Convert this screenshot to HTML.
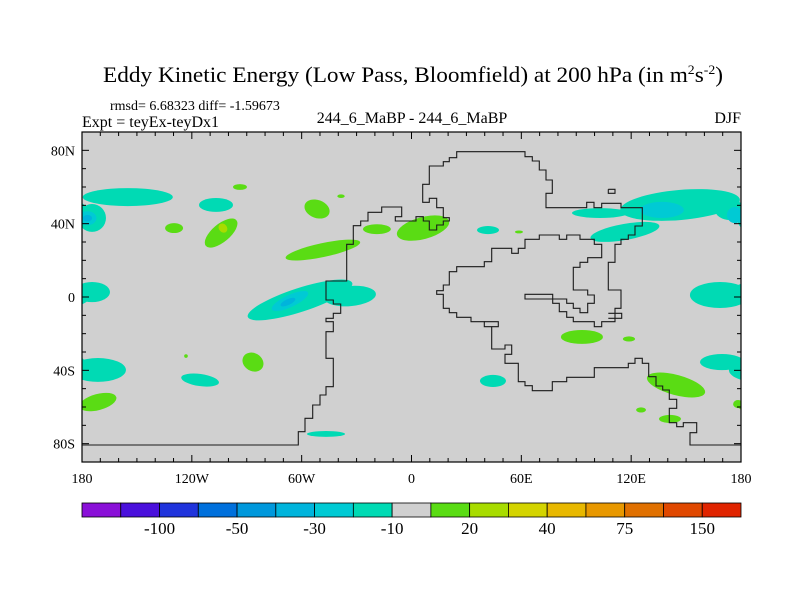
<!DOCTYPE html>
<html><head><meta charset="utf-8">
<style>
html,body{margin:0;padding:0;background:#fff;}
svg{display:block;font-family:"Liberation Serif",serif;}
</style></head>
<body>
<svg id="chart" width="800" height="600" viewBox="0 0 800 600" xmlns="http://www.w3.org/2000/svg">
<text x="103" y="82" font-size="22" textLength="620" lengthAdjust="spacingAndGlyphs">Eddy Kinetic Energy (Low Pass, Bloomfield) at 200 hPa (in m<tspan dy="-8" font-size="13">2</tspan><tspan dy="8">s</tspan><tspan dy="-8" font-size="13">-2</tspan><tspan dy="8">)</tspan></text>
<text x="110" y="110" font-size="14">rmsd= 6.68323 diff= -1.59673</text>
<text x="82" y="127" font-size="16">Expt = teyEx-teyDx1</text>
<text x="412" y="123" font-size="16" text-anchor="middle">244_6_MaBP - 244_6_MaBP</text>
<text x="741" y="123" font-size="16" text-anchor="end">DJF</text>
<defs><clipPath id="clip"><rect x="82" y="132" width="659" height="330"/></clipPath></defs>
<rect x="82" y="132" width="659" height="330" fill="#d0d0d0"/>
<g id="contours" clip-path="url(#clip)"></g>
<g id="coast" clip-path="url(#clip)"></g>
<g id="axes"></g>
<g id="colorbar"></g>
</svg>
<script>
// Contour blobs: centre lon/lat, radii (deg), rotation (deg), colour level index (1-17)
const blobLon = [-155,-174.5,-177,-177,-106.8,-93.7,-104,-103,-129.7,-51.6,-48.4,-38.5,-18.9,6.3,41.8,58.7,-60.9,-33.6,-66.4,-67.5,93.1,118.8,44.5,-46.7,125.4,146.7,103,116.6,136.8,174,176.7,168.5,-174.5,169.6,-171.3,-171.3,-115.5,-86.6,-123.2,144.5,141.2,178.4];
const blobLat = [54.5,43.1,43,43,50.2,60,34.9,37.6,37.6,48,25.6,55,37,37.6,36.5,35.5,-1.6,0.5,-2.2,-2.8,-21.8,-22.9,-45.8,-74.7,-61.6,50.2,45.8,35.5,47.5,47.5,44.7,1.1,2.7,-35.5,-39.8,-57.3,-45.3,-35.5,-32.2,-48,-66.5,-58.4];
const blobRx  = [24.6,7.6,4.9,2.5,9.3,3.8,10.9,2.2,4.9,7.1,20.8,2,7.6,14.7,6,2.2,30,14.2,10.9,4.4,11.5,3.3,7.1,10.4,2.7,32.8,15.3,19.1,12,8.2,4.4,16.4,9.8,12,15.3,10.4,10.4,6,1,16.4,6,2.7];
const blobRy  = [4.9,7.6,3.8,1.8,3.8,1.6,4.9,2.7,2.7,4.9,3.8,1,2.7,6,2.2,0.8,6.5,5.5,3.3,1.6,3.8,1.4,3.3,1.6,1.4,8.2,2.7,4.4,4.4,5.5,4.4,7.1,5.5,4.4,6.5,4.4,3.3,4.9,1,5.5,2.2,2.2];
const blobRot = [0,0,0,0,0,0,-40,-40,0,20,-12,0,0,-15,0,0,-18,-5,-25,-25,0,0,0,0,0,-5,0,-10,0,0,0,0,0,0,0,-15,8,30,0,15,0,0];
const blobLev = [8,8,7,6,8,10,10,11,10,10,10,10,10,10,8,10,8,8,7,6,10,10,8,8,10,8,8,8,7,8,7,8,8,8,8,10,8,10,10,10,10,10];
// Colorbar levels
const levelColors = ["#8a10d8","#4a10dc","#2034dc","#0070dc","#0098dc","#00b4dc","#00cad4","#00dab4","#d0d0d0","#5adc14","#a8dc00","#d4d400","#e8b800","#e89800","#e07000","#e04800","#e02400"];
const cbarLabels = ["-100","-50","-30","-10","20","40","75","150"];
const cbarLabelPos = [2,4,6,8,10,12,14,16];
const xTickLabels = ["180","120W","60W","0","60E","120E","180"];
const xTickLons = [-180,-120,-60,0,60,120,180];
const yTickLabels = ["80N","40N","0","40S","80S"];
const yTickLats = [80,40,0,-40,-80];

const X0=82,Y0=132,W=659,H=330;
const xS = lon => X0 + (lon+180)/360*W;
const yS = lat => Y0 + (90-lat)/180*H;
const NS="http://www.w3.org/2000/svg";
function mk(tag, attrs, parent){const e=document.createElementNS(NS,tag);for(const k in attrs)e.setAttribute(k,attrs[k]);parent.appendChild(e);return e;}

const cg=document.getElementById('contours');
const order=blobLon.map((_,i)=>i).sort((a,b)=>Math.abs(blobLev[a]-8.5)-Math.abs(blobLev[b]-8.5));
order.forEach(i=>{
  [-360,0,360].forEach(off=>{
    const cx=xS(blobLon[i]+off), cy=yS(blobLat[i]);
    const e=mk('ellipse',{cx:cx,cy:cy,rx:blobRx[i]*W/360,ry:blobRy[i]*H/180,fill:levelColors[blobLev[i]-1],transform:`rotate(${blobRot[i]} ${cx} ${cy})`},cg);
    
    
  });
});

// Coastline outlines (traced; zoom-space coords)
const coastA=[[-640,900],[25,900],[25,860],[45,860],[45,820],[68,820],[68,780],[90,780],[90,750],[108,750],[108,725],[130,725],[130,640],[108,640],[108,560],[130,560],[130,530],[108,530],[108,520],[130,520],[130,505],[152,505],[152,477],[130,477],[130,465],[108,465],[108,408],[170,408],[170,298],[190,298],[190,242],[212,242],[212,228],[234,228],[234,202],[275,202],[275,186],[335,186],[335,215],[316,215],[316,228],[378,228],[378,215],[400,215],[400,228],[418,228],[418,255],[440,255],[440,240],[460,240],[460,228],[478,228],[478,218],[460,218],[460,188],[440,188],[440,160],[418,160],[418,172],[398,172],[398,118],[418,118],[418,63],[460,63],[460,50],[478,50],[478,38],[500,38],[500,20],[705,20],[705,35],[727,35],[727,48],[748,48],[748,75],[768,75],[768,105],[787,105],[787,145],[768,145],[768,188],[890,188],[890,172],[912,172],[912,188],[935,188],[935,175],[993,175],[993,188],[1057,188],[1057,243],[1035,243],[1035,270],[1015,270],[1015,283],[993,283],[993,298],[975,298],[975,352],[955,352],[955,435],[993,435],[993,490],[975,490],[975,530],[935,530],[935,545],[913,545],[913,530],[850,530],[850,517],[830,517],[830,500],[808,500],[808,475],[788,475],[788,462],[705,462],[705,448],[788,448],[788,462],[830,462],[830,475],[850,475],[850,490],[870,490],[870,503],[893,503],[893,475],[913,475],[913,450],[893,450],[893,435],[850,435],[850,367],[870,367],[870,352],[893,352],[893,338],[935,338],[935,298],[913,298],[913,283],[870,283],[870,270],[830,270],[830,283],[808,283],[808,270],[748,270],[748,283],[705,283],[705,310],[685,310],[685,325],[665,325],[665,310],[605,310],[605,350],[583,350],[583,365],[500,365],[500,380],[478,380],[478,420],[460,420],[460,437],[440,437],[440,448],[460,448],[460,490],[478,490],[478,503],[500,503],[500,517],[543,517],[543,530],[583,530],[583,545],[605,545],[605,612],[645,612],[645,600],[665,600],[665,628],[645,628],[645,655],[685,655],[685,710],[705,710],[705,722],[727,722],[727,737],[787,737],[787,710],[830,710],[830,697],[913,697],[913,668],[1015,668],[1015,655],[1035,655],[1035,640],[1057,640],[1057,655],[1076,655],[1076,695]];
const coastB=[[265,50],[288,50],[288,78],[308,78],[308,90],[328,90],[328,118],[350,118],[350,145],[328,145],[328,188],[350,188],[350,200],[370,200],[370,188],[410,188],[410,218],[390,218],[390,255],[560,255]];
const coastBox=[[955,133],[975,133],[975,145],[955,145],[955,133]];
const coastBox2=[[955,505],[995,505],[995,520],[955,520]];
const coastBox3=[[583,530],[625,530],[625,545],[605,545]];
const kg=document.getElementById('coast');
function poly(pts,fx,fy,name){
  const s=pts.map(p=>`${fx(p[0]).toFixed(1)},${fy(p[1]).toFixed(1)}`).join(' ');
  const e=mk('polyline',{points:s,fill:'none',stroke:'#1a1a1a','stroke-width':1.1},kg);
  
  
}
const z4x=v=>290+v/3, z4y=v=>145+v/3, z3x=v=>560+v/3, z3y=v=>360+v/3;
poly(coastA,z4x,z4y,'coastline-main');
poly(coastBox,z4x,z4y,'coastline-island');
poly(coastBox2,z4x,z4y,'coastline-island');
poly(coastBox3,z4x,z4y,'coastline-island');
poly(coastB,z3x,z3y,'coastline-east');

// Axes
const ag=document.getElementById('axes');
const fr=mk('rect',{x:X0,y:Y0,width:W,height:H,fill:'none',stroke:'#000','stroke-width':1.2},ag);


for(let lon=-180;lon<=180;lon+=10){
  const L=(lon%60===0)?7:4, x=xS(lon);
  mk('line',{x1:x,y1:Y0+H,x2:x,y2:Y0+H-L,stroke:'#000','stroke-width':1},ag);
  mk('line',{x1:x,y1:Y0,x2:x,y2:Y0+L,stroke:'#000','stroke-width':1},ag);
}
for(let lat=-90;lat<=90;lat+=10){
  const L=(lat%40===0)?7:4, y=yS(lat);
  mk('line',{x1:X0,y1:y,x2:X0+L,y2:y,stroke:'#000','stroke-width':1},ag);
  mk('line',{x1:X0+W,y1:y,x2:X0+W-L,y2:y,stroke:'#000','stroke-width':1},ag);
}
xTickLabels.forEach((t,i)=>{
  const e=mk('text',{x:xS(xTickLons[i]),y:483,'font-size':14,'text-anchor':'middle'},ag);
  e.textContent=t;
  
  
});
yTickLabels.forEach((t,i)=>{
  const e=mk('text',{x:75,y:yS(yTickLats[i])+5,'font-size':14,'text-anchor':'end'},ag);
  e.textContent=t;
  
  
});

// Colorbar
const bg=document.getElementById('colorbar');
const bw=W/levelColors.length;
levelColors.forEach((c,i)=>{
  const r=mk('rect',{x:X0+i*bw,y:503,width:bw,height:14,fill:c,stroke:'#000','stroke-width':0.8},bg);
  
  
});
cbarLabels.forEach((t,i)=>{
  const e=mk('text',{x:X0+cbarLabelPos[i]*bw,y:534,'font-size':17,'text-anchor':'middle'},bg);
  e.textContent=t;
  
  
});
</script>
</body></html>
